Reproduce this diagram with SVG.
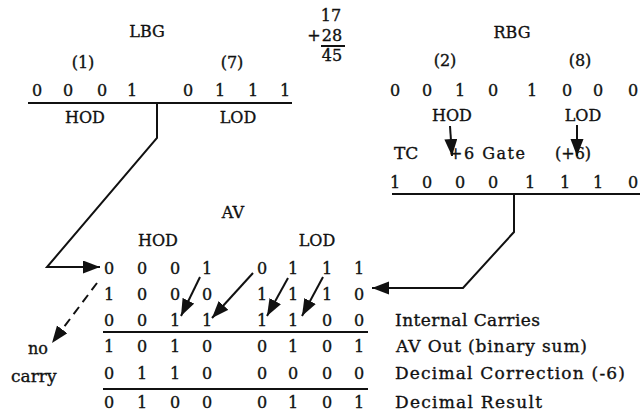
<svg xmlns="http://www.w3.org/2000/svg" width="642" height="410" viewBox="0 0 642 410">
<style>
text{font-family:"DejaVu Serif","Liberation Serif",serif;font-size:16px;fill:#111;stroke:#111;stroke-width:0.35;text-anchor:middle}
.l{text-anchor:start}
.lab{font-size:17px;text-anchor:start}
.ln{stroke:#111;stroke-width:2;fill:none}
.ar{stroke:#111;stroke-width:2;fill:none;marker-end:url(#ah)}
.da{stroke:#111;stroke-width:2;fill:none;stroke-dasharray:9 6;marker-end:url(#ah)}
</style>
<defs>
<marker id="ah" markerUnits="userSpaceOnUse" markerWidth="20" markerHeight="14" refX="17" refY="6.5" orient="auto">
<path d="M0,0 L17,6.5 L0,13 z" fill="#111"/>
</marker>
</defs>
<rect width="642" height="410" fill="#fff"/>

<g id="sum">
<text x="331" y="21">17</text>
<text x="314" y="41">+</text>
<text x="332" y="41">28</text>
<line class="ln" x1="321" y1="46" x2="345" y2="46"/>
<text x="332" y="61">45</text>
</g>

<g id="lbg">
<text x="147" y="37">LBG</text>
<text x="83" y="68">(1)</text>
<text x="232" y="68">(7)</text>
<text x="37" y="95.5">0</text><text x="68" y="95.5">0</text><text x="102" y="95.5">0</text><text x="132" y="95.5">1</text>
<text x="188" y="95.5">0</text><text x="220" y="95.5">1</text><text x="253" y="95.5">1</text><text x="285" y="95.5">1</text>
<line class="ln" x1="28" y1="103" x2="292" y2="103"/>
<text x="85" y="122.5">HOD</text>
<text x="238" y="122.5">LOD</text>
</g>

<g id="rbg">
<text x="512" y="38">RBG</text>
<text x="445" y="66">(2)</text>
<text x="580" y="66">(8)</text>
<text x="395" y="95.5">0</text><text x="427" y="95.5">0</text><text x="460" y="95.5">1</text><text x="493" y="95.5">0</text>
<text x="532" y="95.5">1</text><text x="567" y="95.5">0</text><text x="598" y="95.5">0</text><text x="633" y="95.5">0</text>
<text x="452" y="120.5">HOD</text>
<text x="583" y="120.5">LOD</text>
<text class="l" x="394" y="159" style="font-size:17px">TC</text>
<text class="l" x="449" y="159" textLength="76">+6 Gate</text>
<text class="l" x="555" y="159">(+6)</text>
<text x="395" y="187.5">1</text><text x="427" y="187.5">0</text><text x="460" y="187.5">0</text><text x="493" y="187.5">0</text>
<text x="530" y="187.5">1</text><text x="565" y="187.5">1</text><text x="598" y="187.5">1</text><text x="633" y="187.5">0</text>
<line class="ln" x1="392" y1="194" x2="640" y2="194"/>
</g>

<g id="av">
<text x="233" y="218">AV</text>
<text x="158" y="245.5">HOD</text>
<text x="317" y="245.5">LOD</text>
<g id="row1">
<text x="109" y="273.5">0</text><text x="142" y="273.5">0</text><text x="175" y="273.5">0</text><text x="207" y="273.5">1</text>
<text x="262" y="273.5">0</text><text x="293" y="273.5">1</text><text x="327" y="273.5">1</text><text x="359" y="273.5">1</text>
</g>
<g id="row2">
<text x="109" y="299.5">1</text><text x="142" y="299.5">0</text><text x="175" y="299.5">0</text><text x="207" y="299.5">0</text>
<text x="262" y="299.5">1</text><text x="293" y="299.5">1</text><text x="327" y="299.5">1</text><text x="359" y="299.5">0</text>
</g>
<g id="row3">
<text x="109" y="325.5">0</text><text x="142" y="325.5">0</text><text x="175" y="325.5">1</text><text x="207" y="325.5">1</text>
<text x="262" y="325.5">1</text><text x="293" y="325.5">1</text><text x="327" y="325.5">0</text><text x="359" y="325.5">0</text>
</g>
<line class="ln" x1="103" y1="332" x2="368" y2="332"/>
<g id="row4">
<text x="109" y="351.5">1</text><text x="142" y="351.5">0</text><text x="175" y="351.5">1</text><text x="207" y="351.5">0</text>
<text x="262" y="351.5">0</text><text x="293" y="351.5">1</text><text x="327" y="351.5">0</text><text x="359" y="351.5">1</text>
</g>
<g id="row5">
<text x="109" y="378.5">0</text><text x="142" y="378.5">1</text><text x="175" y="378.5">1</text><text x="207" y="378.5">0</text>
<text x="262" y="378.5">0</text><text x="293" y="378.5">0</text><text x="327" y="378.5">0</text><text x="359" y="378.5">0</text>
</g>
<line class="ln" x1="103" y1="389" x2="368" y2="389"/>
<g id="row6">
<text x="109" y="407.5">0</text><text x="142" y="407.5">1</text><text x="175" y="407.5">0</text><text x="207" y="407.5">0</text>
<text x="262" y="407.5">0</text><text x="293" y="407.5">1</text><text x="327" y="407.5">0</text><text x="359" y="407.5">1</text>
</g>
</g>

<g id="labels">
<text class="lab" x="395" y="325.5" textLength="145">Internal Carries</text>
<text class="lab" x="396" y="351.5" textLength="191">AV Out (binary sum)</text>
<text class="lab" x="395" y="378.5" textLength="230">Decimal Correction (-6)</text>
<text class="lab" x="395" y="407.5" textLength="147">Decimal Result</text>
<text class="l" x="28" y="354">no</text>
<text class="l" x="11" y="382" style="font-size:17px">carry</text>
</g>

<g id="connectors">
<polyline class="ar" points="157,103 157,138 47,267 100,267"/>
<polyline class="ar" points="514,194 514,232 463,288 372,288"/>
<line class="ar" x1="450" y1="126" x2="452" y2="156"/>
<line class="ar" x1="577" y1="125" x2="577" y2="156"/>
<line class="ar" x1="200" y1="277" x2="181" y2="316"/>
<line class="ar" x1="253" y1="273" x2="212" y2="318"/>
<line class="ar" x1="288" y1="278" x2="267" y2="316"/>
<line class="ar" x1="323" y1="277" x2="302" y2="316"/>
<line class="da" x1="97" y1="283" x2="52" y2="343"/>
</g>
</svg>
